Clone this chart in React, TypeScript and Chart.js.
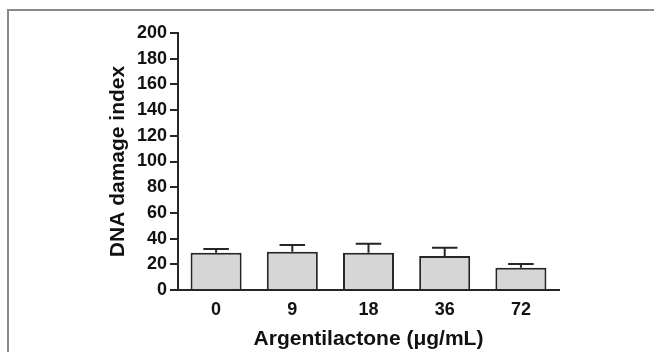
import React, { useEffect, useRef } from "react";
import { Chart, registerables } from "chart.js";

Chart.register(...registerables);

const categories = ["0", "9", "18", "36", "72"];
const damageIndex = [29.0, 29.8, 29.0, 26.5, 17.4];
const errorUp = [2.9, 5.2, 7.0, 6.4, 2.8];
const yTicks = [0, 20, 40, 60, 80, 100, 120, 140, 160, 180, 200];

const FONT = '"Liberation Sans", Arial, Helvetica, sans-serif';
const DARK = "#262626";

const errorBarPlugin = {
  id: "errorBars",
  afterDatasetsDraw(chart: any) {
    const ctx = chart.ctx;
    const meta = chart.getDatasetMeta(0);
    const yScale = chart.scales.y;
    ctx.save();
    ctx.strokeStyle = DARK;
    ctx.lineWidth = 2;
    meta.data.forEach((bar: any, i: number) => {
      const x = bar.x;
      const half = bar.width / 4;
      const yBase = yScale.getPixelForValue(damageIndex[i]);
      const yTop = yScale.getPixelForValue(damageIndex[i] + errorUp[i]);
      ctx.beginPath();
      ctx.moveTo(x, yBase);
      ctx.lineTo(x, yTop);
      ctx.moveTo(x - half, yTop);
      ctx.lineTo(x + half, yTop);
      ctx.stroke();
    });
    ctx.restore();
  },
};

export default function App() {
  const canvasRef = useRef<HTMLCanvasElement | null>(null);

  useEffect(() => {
    const canvas = canvasRef.current;
    if (!canvas) return;
    const chart = new Chart(canvas, {
      type: "bar",
      data: {
        labels: categories,
        datasets: [
          {
            data: damageIndex,
            backgroundColor: "#d6d6d6",
            borderColor: DARK,
            borderWidth: 2,
            borderSkipped: "start",
            categoryPercentage: 1,
            barPercentage: 0.67,
          },
        ],
      },
      options: {
        responsive: false,
        animation: false,
        devicePixelRatio: 1,
        layout: { padding: { left: 100, right: 95, top: 33, bottom: 0 } },
        plugins: {
          legend: { display: false },
          tooltip: { enabled: false },
        },
        scales: {
          x: {
            afterFit: (s: any) => {
              s.height = 62;
            },
            grid: { display: false, drawTicks: false },
            border: { display: true, color: DARK, width: 2 },
            ticks: {
              padding: 9,
              color: "#111",
              font: { family: FONT, size: 18, weight: "bold" },
            },
            title: {
              display: true,
              text: "Argentilactone (μg/mL)",
              color: "#111",
              padding: { top: 0, bottom: 0 },
              font: { family: FONT, size: 21, weight: "bold" },
            },
          },
          y: {
            min: 0,
            max: 200,
            afterFit: (s: any) => {
              s.width = 78;
            },
            afterBuildTicks: (s: any) => {
              s.ticks = yTicks.map((v) => ({ value: v }));
            },
            grid: {
              drawOnChartArea: false,
              drawTicks: true,
              tickLength: 8,
              color: DARK,
              lineWidth: 2,
            },
            border: { display: true, color: DARK, width: 2 },
            ticks: {
              padding: 3,
              color: "#111",
              font: { family: FONT, size: 18, weight: "bold" },
            },
            title: {
              display: true,
              text: "DNA damage index",
              color: "#111",
              padding: { top: 6, bottom: 0 },
              font: { family: FONT, size: 21, weight: "bold" },
            },
          },
        },
      },
      plugins: [errorBarPlugin],
    });
    return () => chart.destroy();
  }, []);

  return (
    <div style={{ position: "fixed", left: 0, top: 0, width: 654, height: 352, background: "#fff" }}>
      <div
        style={{
          position: "absolute",
          left: 7,
          top: 9,
          width: 660,
          height: 360,
          borderTop: "2px solid #8a8a8a",
          borderLeft: "2px solid #8a8a8a",
          boxSizing: "border-box",
        }}
      />
      <canvas
        ref={canvasRef}
        width={654}
        height={352}
        style={{ position: "absolute", left: 0, top: 0, width: 654, height: 352 }}
      />
    </div>
  );
}
